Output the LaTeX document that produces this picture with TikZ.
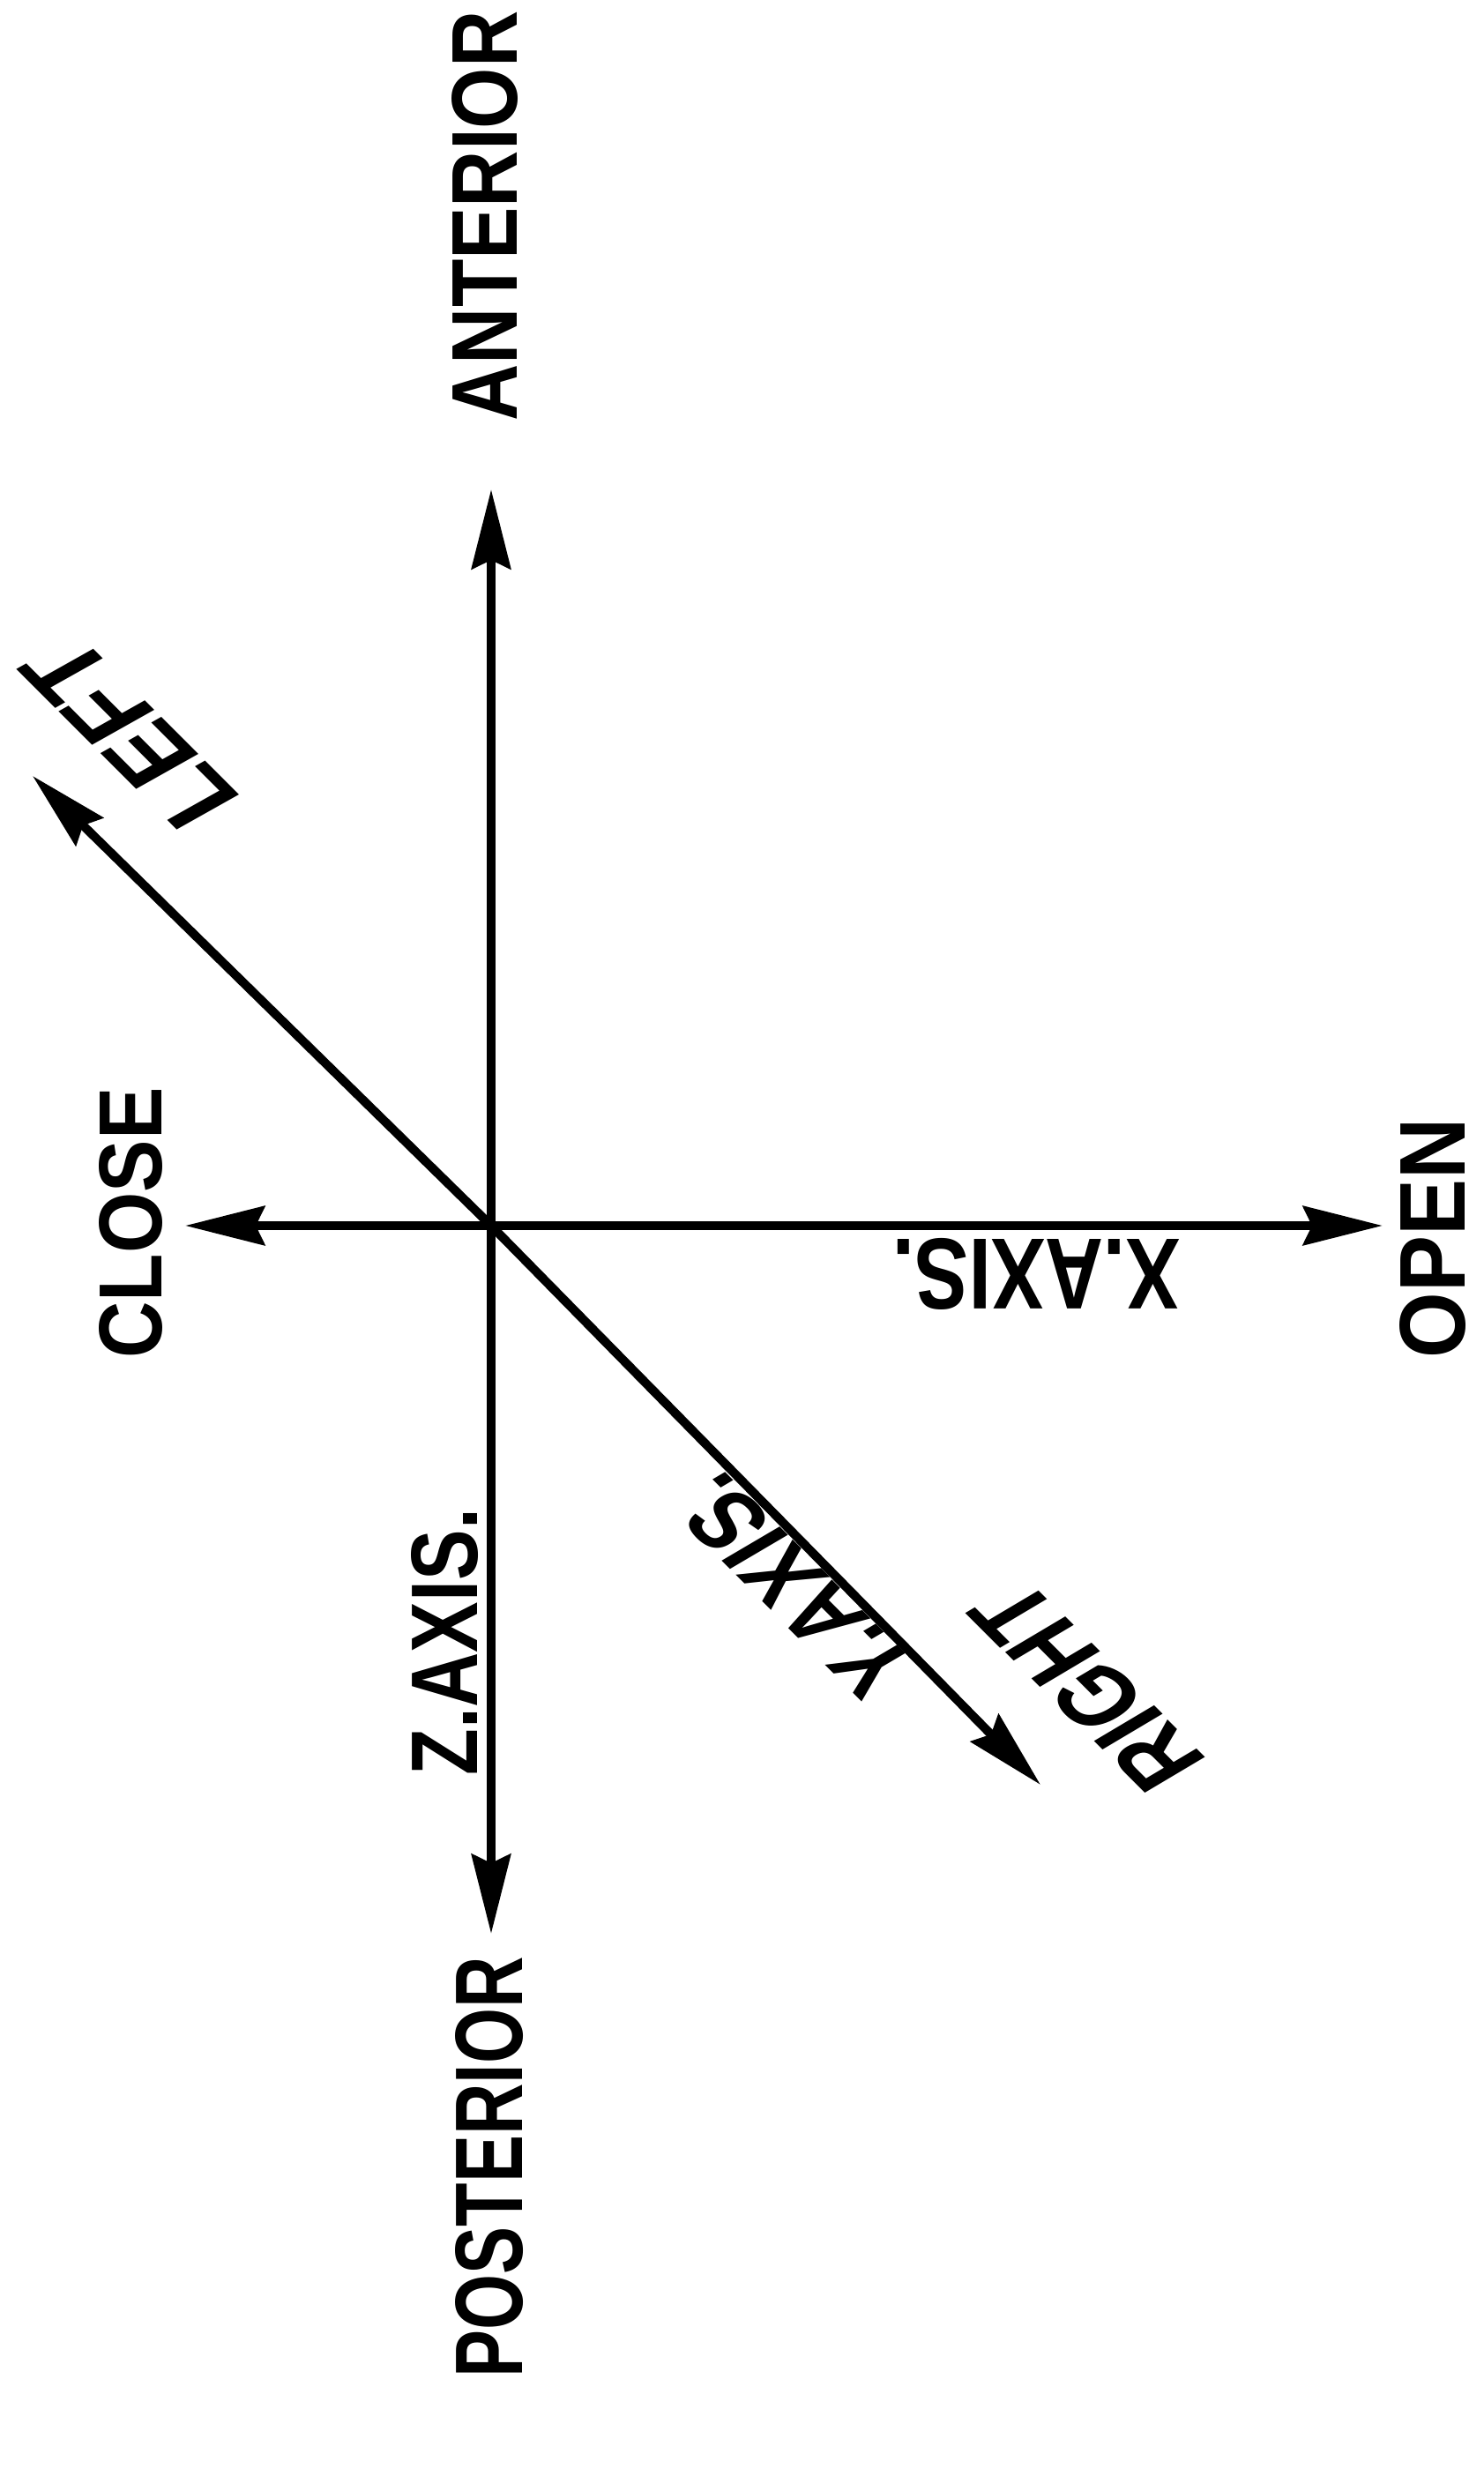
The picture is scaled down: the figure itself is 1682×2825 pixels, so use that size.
\documentclass[tikz,border=0pt]{standalone}
\usepackage{fontspec}
\usepackage{graphicx}
\usetikzlibrary{arrows.meta}
\newfontfamily\labfont{Liberation Sans}
\newfontfamily\diagfont[FakeSlant=0.3]{Liberation Sans}
\newcommand\lbl[3]{\resizebox{#1pt}{#2pt}{#3}}
\begin{document}
\begin{tikzpicture}[x=1pt,y=-1pt,
  tip/.style={Stealth[length=90pt,width=44pt,inset=10pt]},
  axisline/.style={line width=10pt,{Stealth[length=90pt,width=44pt,inset=10pt]}-{Stealth[length=90pt,width=44pt,inset=10pt]}},
  lab/.style={inner sep=0pt,font=\labfont\bfseries\fontsize{103}{110}\selectfont},
  dlab/.style={inner sep=0pt,font=\diagfont\bfseries\fontsize{103}{110}\selectfont}]
\useasboundingbox[fill=white] (0,0) rectangle (1682,2825);
% axis points
\coordinate (O) at (557,1390);
\coordinate (zpos) at (557,555);
\coordinate (zneg) at (557,2193);
\coordinate (xneg) at (210,1390);
\coordinate (xpos) at (1568,1390);
\coordinate (yneg) at (37,880);
\coordinate (ypos) at (1180,2024);
% axes
\draw[axisline] (zpos) -- (O) -- (zneg);
\draw[axisline] (xneg) -- (O) -- (xpos);
\draw[axisline] (yneg) -- (O) -- (ypos);
% labels
\node[lab,rotate=90] (ant) at (550,245) {\lbl{465}{74}{ANTERIOR}};
\node[lab,rotate=90] (post) at (555,2458) {\lbl{477}{76}{POSTERIOR}};
\node[lab,rotate=90] (close) at (148,1387) {\lbl{307}{71}{CLOSE}};
\node[lab,rotate=90] (open) at (1625,1404) {\lbl{272}{74}{OPEN}};
\node[lab,rotate=90] (zax) at (505,1862) {\lbl{302}{75}{Z.AXIS.}};
\node[lab,rotate=180] (xax) at (1175,1445) {\lbl{326}{80}{X.AXIS.}};
\node[dlab,rotate=135] (yax) at (905,1805) {\lbl{320}{75}{Y.AXIS.}};
\node[dlab,rotate=135] (right) at (1240,1920) {\lbl{295}{78}{RIGHT}};
\node[dlab,rotate=135] (left) at (155,840) {\lbl{265}{78}{LEFT}};
\end{tikzpicture}
\end{document}
